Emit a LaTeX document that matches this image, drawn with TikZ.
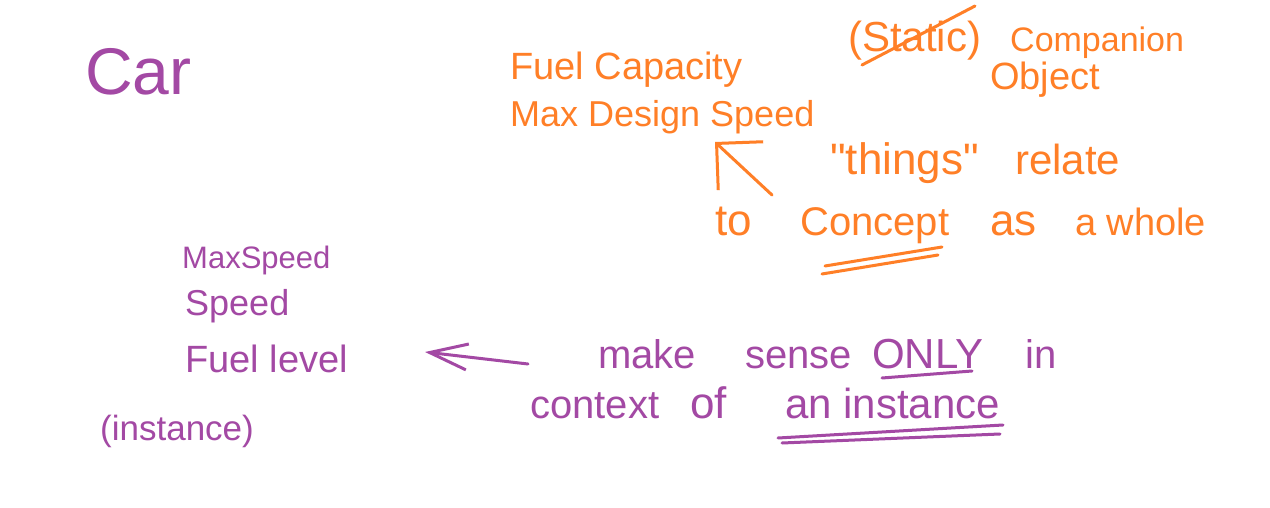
\documentclass[tikz,border=0pt]{standalone}
\usepackage{fontspec}
\setmainfont{Liberation Sans}
\usetikzlibrary{arrows.meta}
\definecolor{inkorange}{RGB}{255,127,39}
\definecolor{inkpurple}{RGB}{163,73,164}
\newcommand{\plainquote}{\XeTeXglyph\numexpr\XeTeXcharglyph"22\relax}
\begin{document}
\begin{tikzpicture}[x=1pt,y=-1pt,
  orangetxt/.style={text=inkorange, anchor=base west, inner sep=0pt},
  purpletxt/.style={text=inkpurple, anchor=base west, inner sep=0pt},
  penline/.style={line width=3pt, line cap=round, line join=round},
  fs/.style={font=\fontsize{#1}{#1}\selectfont},
]
\useasboundingbox[fill=white] (0,0) rectangle (1270,508);

% purple, top left
\node[purpletxt, fs=66] (car) at (85,95) {Car};

% orange, top
\node[orangetxt, fs=38] (fuelcap) at (510,80) {Fuel Capacity};
\node[orangetxt, fs=36] (maxdesign) at (510,127) {Max Design Speed};
\node[orangetxt, fs=42] (static) at (848,52) {(Static)};
\node[orangetxt, fs=34] (companion) at (1010,52) {Companion};
\node[orangetxt, fs=38] (object) at (990,90) {Object};
\node[orangetxt, fs=44] (things) at (830,175) {\plainquote things\plainquote};
\node[orangetxt, fs=42] (relate) at (1015,175) {relate};
\node[orangetxt, fs=44] (to) at (715,235) {to};
\node[orangetxt, fs=40] (concept) at (800,235) {Concept};
\node[orangetxt, fs=44] (as) at (990,235) {as};
\node[orangetxt, fs=38] (whole) at (1075,235) {a whole};

% strike through Static
\coordinate (st-a) at (862,65);
\coordinate (st-b) at (975,6);
\draw[penline, inkorange] (st-a) -- (st-b);

% Concept double underline
\coordinate (cu1-a) at (825,266); \coordinate (cu1-b) at (942,247);
\coordinate (cu2-a) at (822,274); \coordinate (cu2-b) at (938,255);
\draw[penline, inkorange] (cu1-a) -- (cu1-b);
\draw[penline, inkorange] (cu2-a) -- (cu2-b);

% orange arrow up-left
\coordinate (oa-tail) at (772,195);
\coordinate (oa-tip) at (715,142);
\draw[penline, inkorange, -{Straight Barb[length=33pt,width=66pt]}] (oa-tail) -- (oa-tip);

% purple, lower left
\node[purpletxt, fs=31] (maxspeed) at (182,268) {MaxSpeed};
\node[purpletxt, fs=36] (speed) at (185,315) {Speed};
\node[purpletxt, fs=38] (fuellevel) at (185,372) {Fuel level};
\node[purpletxt, fs=35] (instance) at (100,440) {(instance)};

% purple, lower right
\node[purpletxt, fs=40] (make) at (598,368) {make};
\node[purpletxt, fs=40] (sense) at (745,368) {sense};
\node[purpletxt, fs=42] (only) at (872,368) {ONLY};
\node[purpletxt, fs=40] (in) at (1025,368) {in};
\node[purpletxt, fs=40] (context) at (530,418) {context};
\node[purpletxt, fs=44] (of) at (690,418) {of};
\node[purpletxt, fs=42] (aninst) at (785,418) {an instance};

% underlines
\coordinate (ou-a) at (882,378); \coordinate (ou-b) at (972,371);
\draw[penline, inkpurple] (ou-a) -- (ou-b);
\coordinate (iu1-a) at (778,438); \coordinate (iu1-b) at (1003,425);
\coordinate (iu2-a) at (782,443); \coordinate (iu2-b) at (1000,434);
\draw[penline, inkpurple] (iu1-a) -- (iu1-b);
\draw[penline, inkpurple] (iu2-a) -- (iu2-b);

% purple arrow left
\coordinate (la-tail) at (528,364);
\coordinate (la-tip) at (425,352);
\draw[penline, inkpurple, -{Straight Barb[length=38pt,width=26pt]}] (la-tail) -- (la-tip);
\end{tikzpicture}
\end{document}
